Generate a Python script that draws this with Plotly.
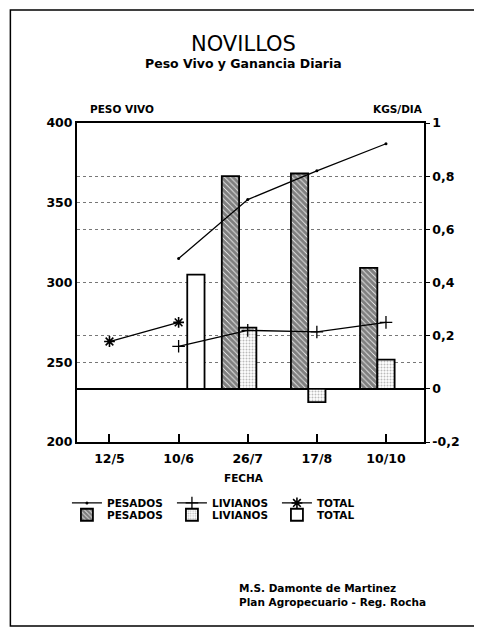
import plotly.graph_objects as go

fechas = ["12/5", "10/6", "26/7", "17/8", "10/10"]

# ganancia diaria (kg/dia) -> barras, eje derecho
gd_pesados = [None, None, 0.80, 0.81, 0.455]
gd_livianos = [None, None, 0.23, -0.05, 0.11]
gd_total = [None, 0.43, None, None, None]

# peso vivo (kg) -> lineas, eje izquierdo
pv_pesados = [None, 315, 352, 370, 387]
pv_livianos = [None, 260, 270, 269, 275]
pv_total = [263, 275, None, None, None]

pv_ticks = [200, 250, 300, 350, 400]
gd_ticks = [-0.2, 0, 0.2, 0.4, 0.6, 0.8, 1]
gd_ticktext = ["-0,2", "0", "0,2", "0,4", "0,6", "0,8", "1"]

FONT = "DejaVu Sans"
bold = dict(family=FONT, size=12.5, color="black", weight="bold")
leg_font = dict(family=FONT, size=10.5, color="black", weight="bold")

fig = go.Figure()

# barras (subplot principal, quedan debajo de las lineas)
fig.add_trace(go.Bar(
    x=fechas, y=gd_pesados, name="PESADOS", legend="legend2",
    marker=dict(color="white", line=dict(color="black", width=1.8),
                pattern=dict(shape="\\", fgcolor="black", bgcolor="white",
                             size=4, solidity=0.8)),
))
fig.add_trace(go.Bar(
    x=fechas, y=gd_livianos, name="LIVIANOS", legend="legend2",
    marker=dict(color="white", line=dict(color="black", width=1.8),
                pattern=dict(shape=".", fgcolor="#777777", bgcolor="white",
                             size=3, solidity=0.35)),
))
fig.add_trace(go.Bar(
    x=fechas, y=gd_total, name="TOTAL", legend="legend2",
    marker=dict(color="white", line=dict(color="black", width=1.8)),
))

# lineas de peso vivo
fig.add_trace(go.Scatter(
    x=fechas, y=pv_pesados, name="PESADOS", yaxis="y2", mode="lines+markers",
    line=dict(color="black", width=1.3),
    marker=dict(symbol="circle", size=3, color="black"),
))
fig.add_trace(go.Scatter(
    x=fechas, y=pv_livianos, name="LIVIANOS", yaxis="y2", mode="lines+markers",
    line=dict(color="black", width=1.3),
    marker=dict(symbol="cross-thin", size=9, line=dict(color="black", width=1.3)),
))
fig.add_trace(go.Scatter(
    x=fechas, y=pv_total, name="TOTAL", yaxis="y2", mode="lines+markers",
    line=dict(color="black", width=1.3),
    marker=dict(symbol="asterisk", size=9, line=dict(color="black", width=1.6)),
))

grid = dict(showgrid=True, gridcolor="#777777", griddash="dot", gridwidth=1)

# la pagina html tiene 8px de margen en el body
fig.update_layout(
    width=474, height=622,
    margin=dict(l=69, r=58, t=115, b=188),
    paper_bgcolor="white", plot_bgcolor="white",
    barmode="group", bargap=0.25, bargroupgap=0,
    xaxis=dict(
        type="category", range=[-0.47, 4.55],
        showline=True, linecolor="black", linewidth=2, mirror=True,
        ticks="inside", ticklen=8, tickcolor="black", tickwidth=1.5,
        tickfont=bold, showgrid=False, ticklabelstandoff=4,
    ),
    yaxis=dict(
        side="right", range=[-0.2, 1],
        tickvals=gd_ticks, ticktext=gd_ticktext,
        showline=True, linecolor="black", linewidth=1.5,
        ticks="outside", ticklen=4, tickcolor="black",
        tickfont=bold, zeroline=True, zerolinecolor="black", zerolinewidth=1.5,
        **grid,
    ),
    yaxis2=dict(
        side="left", overlaying="y", range=[200, 400], tickvals=pv_ticks,
        showline=True, linecolor="black", linewidth=2,
        ticks="", tickfont=bold, zeroline=False,
        **grid,
    ),
    showlegend=True,
    legend=dict(orientation="h", x=-0.029, xanchor="left", y=-0.191, yanchor="middle",
                font=leg_font, entrywidth=60, entrywidthmode="pixels",
                bgcolor="rgba(0,0,0,0)", traceorder="normal"),
    legend2=dict(orientation="h", x=-0.029, xanchor="left", y=-0.228, yanchor="middle",
                 font=leg_font, entrywidth=60, entrywidthmode="pixels",
                 bgcolor="rgba(0,0,0,0)", traceorder="normal"),
    shapes=[dict(type="rect", xref="paper", yref="paper",
                 x0=-0.192, x1=1.18, y0=-0.577, y1=1.354,
                 line=dict(color="black", width=1.5))],
)

notes = [
    ("NOVILLOS", 0.48, 1.248, "center", dict(family=FONT, size=21, color="black")),
    ("<b>Peso Vivo y Ganancia Diaria</b>", 0.48, 1.188, "center",
     dict(family=FONT, size=12.5, color="black")),
    ("<b>PESO VIVO</b>", 0.032, 1.044, "left", dict(family=FONT, size=10.5, color="black")),
    ("<b>KGS/DIA</b>", 1.003, 1.044, "right", dict(family=FONT, size=10.5, color="black")),
    ("<b>FECHA</b>", 0.48, -0.113, "center", dict(family=FONT, size=10.5, color="black")),
    ("<b>M.S. Damonte de Martinez</b>", 0.46, -0.458, "left",
     dict(family=FONT, size=10.5, color="black")),
    ("<b>Plan Agropecuario - Reg. Rocha</b>", 0.46, -0.503, "left",
     dict(family=FONT, size=10.5, color="black")),
]
for text, x, y, anchor, font in notes:
    fig.add_annotation(text=text, x=x, y=y, xref="paper", yref="paper",
                       xanchor=anchor, yanchor="middle", showarrow=False, font=font)

fig.write_html("out.html")
